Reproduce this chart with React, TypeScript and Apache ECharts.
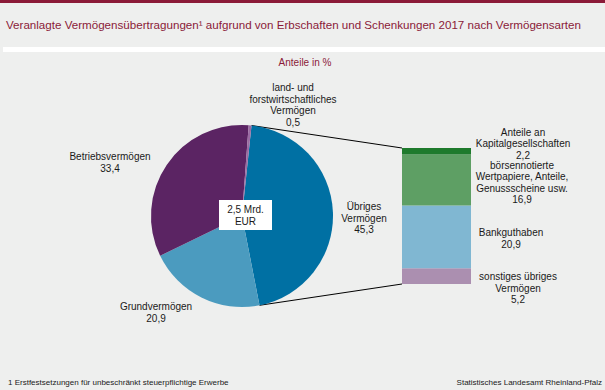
import React, { useEffect, useRef } from "react";
import * as echarts from "echarts";

// ---- data ----
const pieCategories = [
  "Übriges\nVermögen",
  "Grundvermögen",
  "Betriebsvermögen",
  "land- und\nforstwirtschaftliches\nVermögen",
];
const pieValues = [45.3, 20.9, 33.4, 0.5];

const barCategories = [
  "sonstiges übriges\nVermögen",
  "Bankguthaben",
  "börsennotierte\nWertpapiere, Anteile,\nGenussscheine usw.",
  "Anteile an\nKapitalgesellschaften",
];
const barValues = [5.2, 20.9, 16.9, 2.2];

const titleText =
  "Veranlagte Vermögensübertragungen¹ aufgrund von Erbschaften und Schenkungen 2017 nach Vermögensarten";
const subtitleText = "Anteile in %";
const totalText = "2,5 Mrd.\nEUR";
const footnoteText = "1 Erstfestsetzungen für unbeschränkt steuerpflichtige Erwerbe";
const sourceText = "Statistisches Landesamt Rheinland-Pfalz";

// ---- styles / layout ----
const FONT = "'Liberation Sans', Arial, sans-serif";
const BG = "#eeefee";
const RED = "#8b1a38";
const pieColors = ["#0070a3", "#4b9bbf", "#5b2463", "#9b6ba3"];
const barColors = ["#ab8fb0", "#80b7d2", "#5e9f64", "#1e7a2c"];
const PIE_CX = 242;
const PIE_CY = 216;
const PIE_R = 91;
const START_ANGLE = 84;
const pieLabelPos = [
  [364, 218],
  [156, 312.5],
  [110, 162.5],
  [293, 105],
];
const barLabelOffsets = [
  [47, 12],
  [40, 1.5],
  [51, 2.5],
  [52, -7.5],
];
const GRID = { left: 402, top: 148, width: 69, height: 136 };

const fmt = (v: number) => v.toFixed(1).replace(".", ",");

export default function App() {
  const ref = useRef<HTMLDivElement>(null);

  useEffect(() => {
    if (!ref.current) return;
    const chart = echarts.init(ref.current, null, { renderer: "svg" });
    const barTotal = barValues.reduce((a, b) => a + b, 0);

    const baseGraphic: any[] = [
      { type: "rect", shape: { x: 0, y: 0, width: 605, height: 3 }, style: { fill: RED } },
      { type: "rect", shape: { x: 3, y: 47, width: 602, height: 5 }, style: { fill: "#ffffff" } },
      {
        type: "text",
        x: 6,
        y: 24,
        style: { text: titleText, fill: RED, font: `11.6px ${FONT}`, textVerticalAlign: "middle" },
      },
      {
        type: "text",
        x: 305,
        y: 62,
        style: {
          text: subtitleText,
          fill: RED,
          font: `10px ${FONT}`,
          textAlign: "center",
          textVerticalAlign: "middle",
        },
      },
      {
        type: "text",
        x: 8,
        y: 382.5,
        style: { text: footnoteText, fill: "#1a1a1a", font: `8px ${FONT}`, textVerticalAlign: "middle" },
      },
      {
        type: "text",
        x: 602,
        y: 382.5,
        style: {
          text: sourceText,
          fill: "#1a1a1a",
          font: `8px ${FONT}`,
          textAlign: "right",
          textVerticalAlign: "middle",
        },
      },
      {
        type: "rect",
        z: 100,
        shape: { x: 219, y: 200, width: 53, height: 30 },
        style: { fill: "#ffffff" },
      },
      {
        type: "text",
        z: 101,
        x: 245.5,
        y: 215,
        style: {
          text: totalText,
          fill: "#1a1a1a",
          font: `10px ${FONT}`,
          textAlign: "center",
          textVerticalAlign: "middle",
          lineHeight: 12,
        },
      },
    ];

    const option: any = {
      animation: false,
      backgroundColor: BG,
      grid: { ...GRID, containLabel: false },
      xAxis: { type: "category", data: ["Übriges Vermögen"], show: false },
      yAxis: { type: "value", min: 0, max: barTotal, show: false },
      series: [
        {
          type: "pie",
          center: [PIE_CX, PIE_CY],
          radius: PIE_R,
          startAngle: START_ANGLE,
          clockwise: true,
          label: {
            show: true,
            formatter: (p: any) => `${p.name}\n${fmt(p.value)}`,
            color: "#1a1a1a",
            fontFamily: FONT,
            fontSize: 10,
            lineHeight: 11.5,
            align: "center",
          },
          labelLine: { show: false },
          labelLayout: (p: any) => ({
            x: pieLabelPos[p.dataIndex][0],
            y: pieLabelPos[p.dataIndex][1],
            align: "center",
            verticalAlign: "middle",
          }),
          emphasis: { disabled: true },
          data: pieCategories.map((name, i) => ({
            name,
            value: pieValues[i],
            itemStyle: { color: pieColors[i] },
          })),
        },
        ...barCategories.map((name, i) => ({
          type: "bar",
          name,
          stack: "total",
          barWidth: "100%",
          itemStyle: { color: barColors[i] },
          label: {
            show: true,
            position: "right",
            distance: 0,
            align: "center",
            verticalAlign: "middle",
            offset: barLabelOffsets[i],
            formatter: () => `${name}\n${fmt(barValues[i])}`,
            color: "#1a1a1a",
            fontFamily: FONT,
            fontSize: 10,
            lineHeight: 11.5,
          },
          emphasis: { disabled: true },
          data: [barValues[i]],
        })),
      ],
      graphic: baseGraphic,
    };
    chart.setOption(option);

    // connector lines from the Übriges slice to the stacked bar
    const total = pieValues.reduce((a, b) => a + b, 0);
    const a0 = (START_ANGLE * Math.PI) / 180;
    const a1 = ((START_ANGLE - (360 * pieValues[0]) / total) * Math.PI) / 180;
    const p0 = [PIE_CX + PIE_R * Math.cos(a0), PIE_CY - PIE_R * Math.sin(a0)];
    const p1 = [PIE_CX + PIE_R * Math.cos(a1), PIE_CY - PIE_R * Math.sin(a1)];
    const yTop = chart.convertToPixel({ yAxisIndex: 0 }, barTotal) as number;
    const yBot = chart.convertToPixel({ yAxisIndex: 0 }, 0) as number;
    const xLeft = GRID.left;
    chart.setOption({
      graphic: [
        ...baseGraphic,
        {
          type: "line",
          shape: { x1: p0[0], y1: p0[1], x2: xLeft, y2: yTop },
          style: { stroke: "#000", lineWidth: 1 },
        },
        {
          type: "line",
          shape: { x1: p1[0], y1: p1[1], x2: xLeft, y2: yBot },
          style: { stroke: "#000", lineWidth: 1 },
        },
      ],
    });

    return () => chart.dispose();
  }, []);

  return (
    <div
      ref={ref}
      style={{ position: "fixed", left: 0, top: 0, width: 605, height: 390, background: BG }}
    />
  );
}
